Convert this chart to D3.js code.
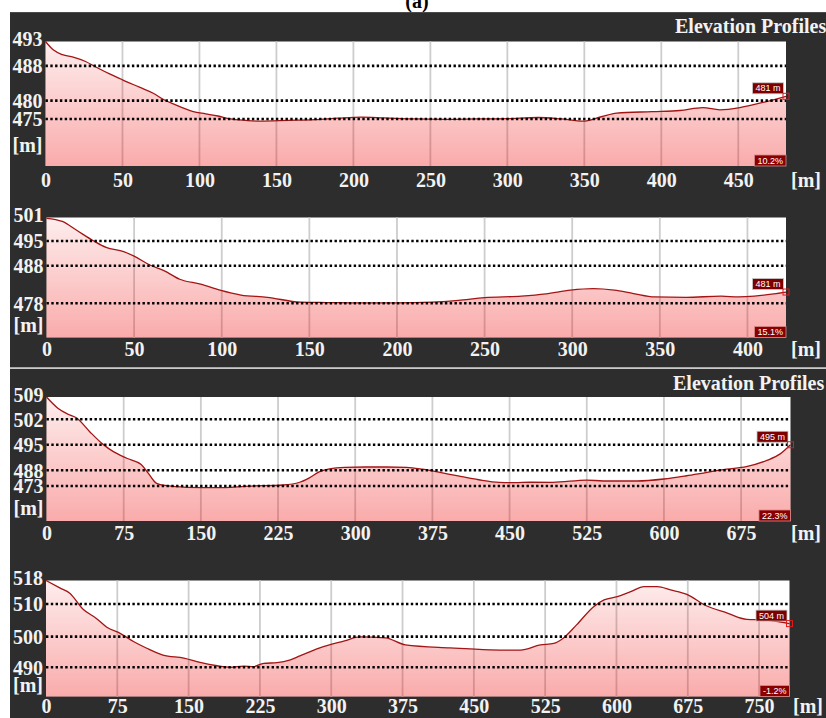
<!DOCTYPE html>
<html>
<head>
<meta charset="utf-8">
<script src="https://cdn.jsdelivr.net/npm/d3@7"></script>
<style>
  body { margin: 0; background: #ffffff; }
  svg { display: block; }
</style>
</head>
<body>
<svg id="chart" width="826" height="718"></svg>
<script>
// ---- Route 1 ----
const dist1 = [0, 5, 11, 18, 26, 33, 42, 50, 61, 70, 77, 83, 96, 104, 112, 120, 130, 139, 158, 175, 190, 205, 220, 240, 260, 280, 300, 320, 335, 349, 361, 371, 394, 412, 427, 438, 451, 464, 481];
const elev1 = [493, 491.3, 490.3, 489.8, 488.9, 487.7, 486.1, 484.8, 483.1, 481.7, 480.2, 479.1, 477.0, 476.4, 475.8, 475.0, 474.6, 474.4, 474.6, 474.8, 475.2, 475.5, 475.3, 475.0, 474.9, 475.0, 475.1, 475.4, 475.0, 474.4, 475.6, 476.6, 477.0, 477.3, 478.1, 477.5, 478.1, 479.3, 481];
const xTicks1 = [0, 50, 100, 150, 200, 250, 300, 350, 400, 450];
const yTicks1 = [493, 488, 480, 475];

// ---- Route 2 ----
const dist2 = [0, 9, 17, 27, 34, 44, 50, 59, 67, 76, 88, 99, 111, 126, 145, 160, 180, 200, 220, 235, 250, 271, 285, 299, 312, 324, 335, 347, 365, 385, 395, 404, 415, 422];
const elev2 = [500.8, 500, 497.8, 495, 493.2, 492, 490.7, 488.2, 486.7, 484.4, 483.1, 481.5, 480.2, 479.6, 478.3, 478.2, 478.1, 478.1, 478.3, 478.8, 479.5, 479.9, 480.5, 481.5, 481.9, 481.5, 480.6, 479.7, 479.6, 479.9, 479.7, 479.9, 480.5, 481];
const xTicks2 = [0, 50, 100, 150, 200, 250, 300, 350, 400];
const yTicks2 = [501, 495, 488, 478];

// ---- Route 3 ----
const dist3 = [0, 11, 21, 29, 42, 55, 65, 78, 92, 99, 107, 117, 136, 165, 198, 230, 246, 255, 265, 275, 290, 310, 330, 350, 365, 380, 400, 420, 440, 455, 470, 492, 525, 541, 574, 600, 622, 642, 661, 680, 700, 713, 723];
const elev3 = [509, 505.5, 503.6, 502.5, 498.6, 495.1, 493.1, 491.3, 489.6, 485.1, 475.6, 473.3, 471.8, 471.4, 473, 474, 476.6, 480.6, 486.4, 488.4, 488.8, 488.9, 488.9, 488.8, 488.3, 486.4, 482.6, 479, 476.5, 476.2, 476.6, 476.5, 478.7, 477.8, 477.8, 479.7, 482.8, 486.1, 488.3, 489, 490.7, 492.5, 495];
const xTicks3 = [0, 75, 150, 225, 300, 375, 450, 525, 600, 675];
const yTicks3 = [509, 502, 495, 488, 473];

// ---- Route 4 ----
const dist4 = [0, 15, 25, 39, 53, 64, 78, 92, 106, 123, 145, 162, 180, 194, 208, 218, 229, 243, 257, 267, 288, 314, 330, 357, 378, 425, 467, 499, 520, 534, 544, 558, 576, 587, 601, 615, 629, 643, 657, 674, 695, 716, 737, 758, 782];
const elev4 = [518, 515.4, 513.7, 508.4, 505.6, 502.9, 501, 498.4, 496.2, 494, 493, 491.6, 490.5, 490, 490.4, 490.2, 491.3, 491.5, 492.4, 493.7, 496.3, 498.6, 499.9, 499.6, 497.3, 496.3, 495.7, 495.6, 497.3, 497.8, 499.5, 503.6, 509.2, 511.4, 512.5, 514.2, 515.9, 515.9, 514.8, 513.3, 509.4, 507.3, 505.3, 505.1, 504];
const xTicks4 = [0, 75, 150, 225, 300, 375, 450, 525, 600, 675, 750];
const yTicks4 = [518, 510, 500, 490];

// maximum grade shown in each profile's corner
const grades = ["10.2%", "15.1%", "22.3%", "-1.2%"];

const titleText = "Elevation Profiles";
const unitText = "[m]";

// ---- layout ----
const SERIF = "'Liberation Serif', 'Times New Roman', serif";
const SANS = "'Liberation Sans', Arial, sans-serif";
const BG = "#2d2d2d";

// plot frames; yFrac places each elevation label down the plot height
const frames = [
  { left: 45.5, right: 786,   top: 41.5,  bottom: 166,   yFrac: [0, 0.196, 0.475, 0.622],        unitUp: 19,  xLabelDown: 14 },
  { left: 46.5, right: 786,   top: 217.5, bottom: 337.5, yFrac: [0, 0.196, 0.402, 0.715],        unitUp: 10.5, xLabelDown: 12 },
  { left: 46.5, right: 790.5, top: 397,   bottom: 521,   yFrac: [0, 0.18, 0.385, 0.591, 0.718],  unitUp: 11,  xLabelDown: 12.5 },
  { left: 46,   right: 789.5, top: 580.5, bottom: 696.5, yFrac: [0, 0.203, 0.484, 0.748],        unitUp: 9.5, xLabelDown: 10 }
];

const routes = [
  { dist: dist1, elev: elev1, xTicks: xTicks1, yTicks: yTicks1 },
  { dist: dist2, elev: elev2, xTicks: xTicks2, yTicks: yTicks2 },
  { dist: dist3, elev: elev3, xTicks: xTicks3, yTicks: yTicks3 },
  { dist: dist4, elev: elev4, xTicks: xTicks4, yTicks: yTicks4 }
];

const svg = d3.select("#chart");
const defs = svg.append("defs");

svg.append("rect").attr("width", 826).attr("height", 718).attr("fill", "#ffffff");

// figure tag
svg.append("text")
  .attr("x", 417).attr("y", 8)
  .attr("text-anchor", "middle")
  .attr("font-family", SERIF).attr("font-weight", "bold").attr("font-size", 20)
  .attr("fill", "#000").text("(a)");

// two dark window panels
svg.append("rect").attr("x", 10).attr("y", 12).attr("width", 816).attr("height", 355).attr("fill", BG);
svg.append("rect").attr("x", 10).attr("y", 12).attr("width", 816).attr("height", 1).attr("fill", "#4a4a4a");
svg.append("rect").attr("x", 10).attr("y", 367).attr("width", 816).attr("height", 1.6).attr("fill", "#a8a8a8");
svg.append("rect").attr("x", 10).attr("y", 369).attr("width", 816).attr("height", 349).attr("fill", BG);

[{ x: 675, y: 33 }, { x: 673, y: 389.5 }].forEach(p => {
  svg.append("text")
    .attr("x", p.x).attr("y", p.y)
    .attr("font-family", SERIF).attr("font-weight", "bold").attr("font-size", 20)
    .attr("fill", "#f2f2f2").text(titleText);
});

routes.forEach((r, i) => drawProfile(r, frames[i], grades[i], i));

function drawProfile(r, f, grade, idx) {
  const g = svg.append("g").attr("class", "profile");
  const x = d3.scaleLinear().domain([0, d3.max(r.dist)]).range([f.left, f.right]);
  const h = f.bottom - f.top;
  const y = d3.scaleLinear().domain(r.yTicks).range(f.yFrac.map(k => f.top + k * h));
  const pts = r.dist.map((d, j) => [d, r.elev[j]]);

  // plot background
  g.append("rect")
    .attr("x", f.left).attr("y", f.top)
    .attr("width", f.right - f.left).attr("height", h)
    .attr("fill", "#ffffff");

  // vertical distance grid
  g.selectAll("line.vgrid")
    .data(r.xTicks.filter(t => t > 0))
    .join("line")
    .attr("class", "vgrid")
    .attr("x1", d => x(d)).attr("x2", d => x(d))
    .attr("y1", f.top).attr("y2", f.bottom)
    .attr("stroke", "#cdcdcd").attr("stroke-width", 1.8);

  // gradient fill under the profile
  const gid = "fill" + idx;
  const grad = defs.append("linearGradient")
    .attr("id", gid).attr("gradientUnits", "userSpaceOnUse")
    .attr("x1", 0).attr("x2", 0).attr("y1", f.top).attr("y2", f.bottom);
  grad.append("stop").attr("offset", "0%").attr("stop-color", "#f00000").attr("stop-opacity", 0.07);
  grad.append("stop").attr("offset", "100%").attr("stop-color", "#f00000").attr("stop-opacity", 0.33);

  const area = d3.area()
    .x(d => x(d[0])).y0(f.bottom).y1(d => y(d[1]))
    .curve(d3.curveMonotoneX);
  g.append("path").datum(pts).attr("d", area).attr("fill", `url(#${gid})`);

  const line = d3.line().x(d => x(d[0])).y(d => y(d[1])).curve(d3.curveMonotoneX);
  g.append("path").datum(pts).attr("d", line)
    .attr("fill", "none").attr("stroke", "#a31414").attr("stroke-width", 1.3);

  // dotted elevation reference lines
  g.selectAll("line.hgrid")
    .data(r.yTicks.slice(1))
    .join("line")
    .attr("class", "hgrid")
    .attr("x1", f.left).attr("x2", f.right)
    .attr("y1", d => y(d)).attr("y2", d => y(d))
    .attr("stroke", "#000").attr("stroke-width", 2.6)
    .attr("stroke-dasharray", "2.4,2.4");

  // elevation axis
  const ya = g.append("g")
    .attr("transform", `translate(${f.left},0)`)
    .call(d3.axisLeft(y).tickValues(r.yTicks).tickSize(0).tickPadding(3).tickFormat(d3.format("d")));
  ya.select(".domain").remove();
  ya.selectAll("text")
    .attr("font-family", SERIF).attr("font-weight", "bold").attr("font-size", 20)
    .attr("fill", "#f2f2f2").attr("dy", "0.34em");
  ya.selectAll(".tick").filter((d, j) => j === 0)
    .select("text").attr("y", -2.5);
  g.append("text")
    .attr("x", f.left - 3).attr("y", f.bottom - f.unitUp + 5)
    .attr("text-anchor", "end")
    .attr("font-family", SERIF).attr("font-weight", "bold").attr("font-size", 20)
    .attr("fill", "#f2f2f2").text(unitText);

  // distance axis
  const xa = g.append("g")
    .attr("transform", `translate(0,${f.bottom})`)
    .call(d3.axisBottom(x).tickValues(r.xTicks).tickSize(0).tickFormat(d3.format("d")));
  xa.select(".domain").remove();
  xa.selectAll("text")
    .attr("font-family", SERIF).attr("font-weight", "bold").attr("font-size", 20)
    .attr("fill", "#f2f2f2").attr("y", f.xLabelDown).attr("dy", "0.34em");
  g.append("text")
    .attr("x", 806 + (idx === 3 ? 2 : 0)).attr("y", f.bottom + f.xLabelDown)
    .attr("dy", "0.34em").attr("text-anchor", "middle")
    .attr("font-family", SERIF).attr("font-weight", "bold").attr("font-size", 20)
    .attr("fill", "#f2f2f2").text(unitText);

  // end-of-route marker with its elevation
  const last = pts[pts.length - 1];
  const ex = x(last[0]), ey = y(last[1]);
  const valTxt = `${Math.round(last[1])} m`;
  const vb = g.append("g");
  const vt = vb.append("text")
    .attr("font-family", SANS).attr("font-size", 9).attr("fill", "#ffffff")
    .attr("text-anchor", "middle").text(valTxt);
  const vw = vt.node().getComputedTextLength() + 6;
  vb.insert("rect", "text")
    .attr("x", ex - 2.5 - vw).attr("y", ey - 2.5 - 11)
    .attr("width", vw).attr("height", 11)
    .attr("fill", "#7c0000").attr("stroke", "#c9c9c9").attr("stroke-width", 0.8);
  vt.attr("x", ex - 2.5 - vw / 2).attr("y", ey - 2.5 - 2.5);

  g.append("rect")
    .attr("x", ex - 3).attr("y", ey - 3).attr("width", 6).attr("height", 6)
    .attr("fill", "none").attr("stroke", "#e01a1a").attr("stroke-width", 1);

  // grade badge
  const gb = g.append("g");
  const gt = gb.append("text")
    .attr("font-family", SANS).attr("font-size", 9).attr("fill", "#ffffff")
    .attr("text-anchor", "middle").text(grade);
  const gw = gt.node().getComputedTextLength() + 6;
  gb.insert("rect", "text")
    .attr("x", f.right - gw).attr("y", f.bottom - 11)
    .attr("width", gw).attr("height", 11)
    .attr("fill", "#8a0000").attr("stroke", "#d88a8a").attr("stroke-width", 0.8);
  gt.attr("x", f.right - gw / 2).attr("y", f.bottom - 2.5);
}
</script>
</body>
</html>
